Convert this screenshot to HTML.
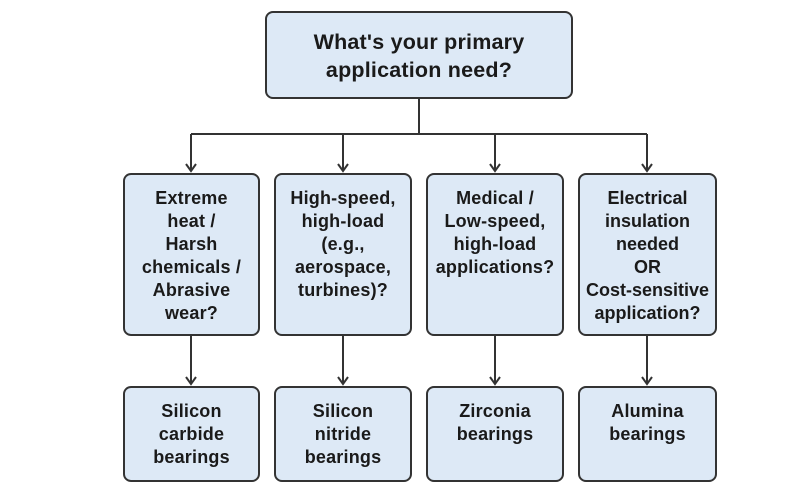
<!DOCTYPE html>
<html><head><style>
body{margin:0;width:800px;height:500px;background:#fff;font-family:"Liberation Sans",Arial,sans-serif;}
.b{position:absolute;box-sizing:border-box;background:#dde9f6;border:2px solid #333;border-radius:8px;display:flex;align-items:flex-start;justify-content:center;text-align:center;font-weight:bold;color:#1a1a1a;font-size:18px;line-height:23px;padding-top:12px;white-space:nowrap;letter-spacing:0.2px}
</style></head><body>
<svg width="800" height="500" style="position:absolute;left:0;top:0">
<g stroke="#333" stroke-width="2" fill="none">
<line x1="419" y1="98" x2="419" y2="134"/>
<line x1="191" y1="134" x2="647" y2="134"/>
<line x1="191" y1="134" x2="191" y2="170"/>
<line x1="343" y1="134" x2="343" y2="170"/>
<line x1="495" y1="134" x2="495" y2="170"/>
<line x1="647" y1="134" x2="647" y2="170"/>
<line x1="191" y1="335" x2="191" y2="383"/>
<line x1="343" y1="335" x2="343" y2="383"/>
<line x1="495" y1="335" x2="495" y2="383"/>
<line x1="647" y1="335" x2="647" y2="383"/>
<path d="M186 164 L191 171 L196 164 M338 164 L343 171 L348 164 M490 164 L495 171 L500 164 M642 164 L647 171 L652 164"/>
<path d="M186 377 L191 384 L196 377 M338 377 L343 384 L348 377 M490 377 L495 384 L500 377 M642 377 L647 384 L652 377"/>
</g></svg>
<div class="b" style="left:265px;top:11px;width:308px;height:88px;font-size:21.5px;line-height:28px;padding-top:15px">What's your primary<br>application need?</div>
<div class="b" style="left:123px;top:173px;width:137px;height:163px">Extreme<br>heat /<br>Harsh<br>chemicals /<br>Abrasive<br>wear?</div>
<div class="b" style="left:274px;top:173px;width:138px;height:163px">High-speed,<br>high-load<br>(e.g.,<br>aerospace,<br>turbines)?</div>
<div class="b" style="left:426px;top:173px;width:138px;height:163px">Medical /<br>Low-speed,<br>high-load<br>applications?</div>
<div class="b" style="left:578px;top:173px;width:139px;height:163px;letter-spacing:0">Electrical<br>insulation<br>needed<br>OR<br>Cost-sensitive<br>application?</div>
<div class="b" style="left:123px;top:386px;width:137px;height:96px">Silicon<br>carbide<br>bearings</div>
<div class="b" style="left:274px;top:386px;width:138px;height:96px">Silicon<br>nitride<br>bearings</div>
<div class="b" style="left:426px;top:386px;width:138px;height:96px">Zirconia<br>bearings</div>
<div class="b" style="left:578px;top:386px;width:139px;height:96px">Alumina<br>bearings</div>
</body></html>
